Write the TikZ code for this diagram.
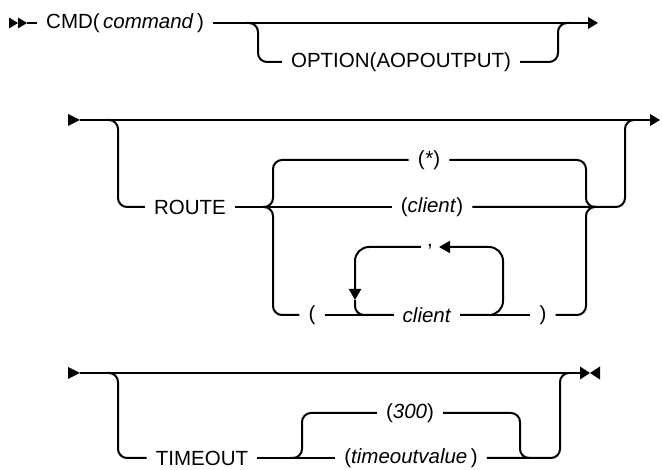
\documentclass[tikz,border=0pt]{standalone}
\usepackage{fontspec}
\setmainfont{Liberation Sans}
\usetikzlibrary{arrows.meta, positioning, calc}

\begin{document}
\begin{tikzpicture}[x=1pt, y=-1pt,
    rail/.style={line width=2pt, rounded corners=9pt},
    loop/.style={line width=2pt, rounded corners=14pt},
    term/.style={inner xsep=9pt, inner ysep=1pt, font=\fontsize{20.5}{24}\selectfont},
    back/.style={-{Triangle[length=11pt, width=12pt]}}
]
\useasboundingbox (0,0) rectangle (662,470);

% Row 1
\coordinate (s1) at (27,23);
\coordinate (e1) at (588,23);
\coordinate (b1) at (258,23);
\coordinate (m1) at (558,23);
\node[term, anchor=west] (cmd) at (37,23) {CMD(\,\textit{command}\,)};
\node[term] (opt) at (401,62) {OPTION(AOPOUTPUT)};

\fill (s1) -- ++(-9,-5.5) -- ++(0,11) -- cycle;
\fill ($(s1)+(-9,0)$) -- ++(-9,-5.5) -- ++(0,11) -- cycle;
\draw[rail] (s1) -- (cmd.west);
\draw[rail] (cmd.east) -- (e1);
\fill (e1) -- ++(0,-6) -- ++(10,6) -- ++(-10,6) -- cycle;
\draw[rail] ($(b1)+(-12,0)$) -- (b1) |- (opt.west);
\draw[rail] (opt.east) -| (m1) -- ++(12,0);

% Row 2
\coordinate (s2) at (80,120);
\coordinate (e2) at (650,120);
\coordinate (b2) at (118,120);
\coordinate (c2) at (273,207);
\coordinate (d2) at (586,207);
\coordinate (m2) at (625,207);
\coordinate (la) at (355,300);
\coordinate (lb) at (503,247);
\node[term] (route) at (190,207) {ROUTE};
\node[term] (star) at (429,160) {(\textit{*})};
\node[term] (client) at (432,207) {(\textit{client})};
\node[term] (lp) at (312,315) {(};
\node[term] (cl) at (427,315) {\textit{client}};
\node[term] (rp) at (543,315) {)};
\node[term, inner xsep=6pt] (comma) at (430,247) {,};

\fill (s2) -- ++(-12,-6) -- ++(0,12) -- cycle;
\draw[rail] (s2) -- (e2);
\fill (e2) -- ++(0,-6) -- ++(10,6) -- ++(-10,6) -- cycle;
\draw[rail] ($(b2)+(-12,0)$) -- (b2) |- (route.west);
\draw[rail] (route.east) -- (client.west);
\draw[rail] ($(c2)+(-10,0)$) -- (c2) |- (star.west);
\draw[rail] ($(c2)+(-10,0)$) -- (c2) |- (lp.west);
\draw[rail] (star.east) -| (d2) -- ++(10,0);
\draw[rail] (rp.east) -| (d2) -- ++(10,0);
\draw[rail] (client.east) -- (m2) |- ($(m2|-e2)+(10,0)$);
\draw[rail] (lp.east) -- (cl.west);
\draw[rail] (cl.east) -- (rp.west);
% repeat loop
\draw[loop, back] (cl.east) -| (lb) -- (comma.east);
\draw[loop, back] (comma.west) -| (la);
\draw[rail] (la) |- (cl.west);

% Row 3
\coordinate (s3) at (80,373);
\coordinate (e3) at (580,373);
\coordinate (b3) at (118,373);
\coordinate (c3) at (302,458);
\coordinate (d3) at (520,458);
\coordinate (m3) at (560,458);
\node[term] (tmo) at (202,458) {TIMEOUT};
\node[term] (dflt) at (410,413) {(\textit{300})};
\node[term] (tval) at (411,458) {(\textit{timeoutvalue}\,)};

\fill (s3) -- ++(-12,-6) -- ++(0,12) -- cycle;
\draw[rail] (s3) -- (e3);
\fill (e3) -- ++(0,-6.5) -- ++(10,6.5) -- ++(-10,6.5) -- cycle;
\fill ($(e3)+(20,0)$) -- ++(0,-6.5) -- ++(-10,6.5) -- ++(10,6.5) -- cycle;
\draw[rail] ($(b3)+(-12,0)$) -- (b3) |- (tmo.west);
\draw[rail] (tmo.east) -- (tval.west);
\draw[rail] ($(c3)+(-12,0)$) -- (c3) |- (dflt.west);
\draw[rail] (dflt.east) -| (d3) -- ++(10,0);
\draw[rail] (tval.east) -- (m3) |- ($(m3|-e3)+(10,0)$);
\end{tikzpicture}
\end{document}
